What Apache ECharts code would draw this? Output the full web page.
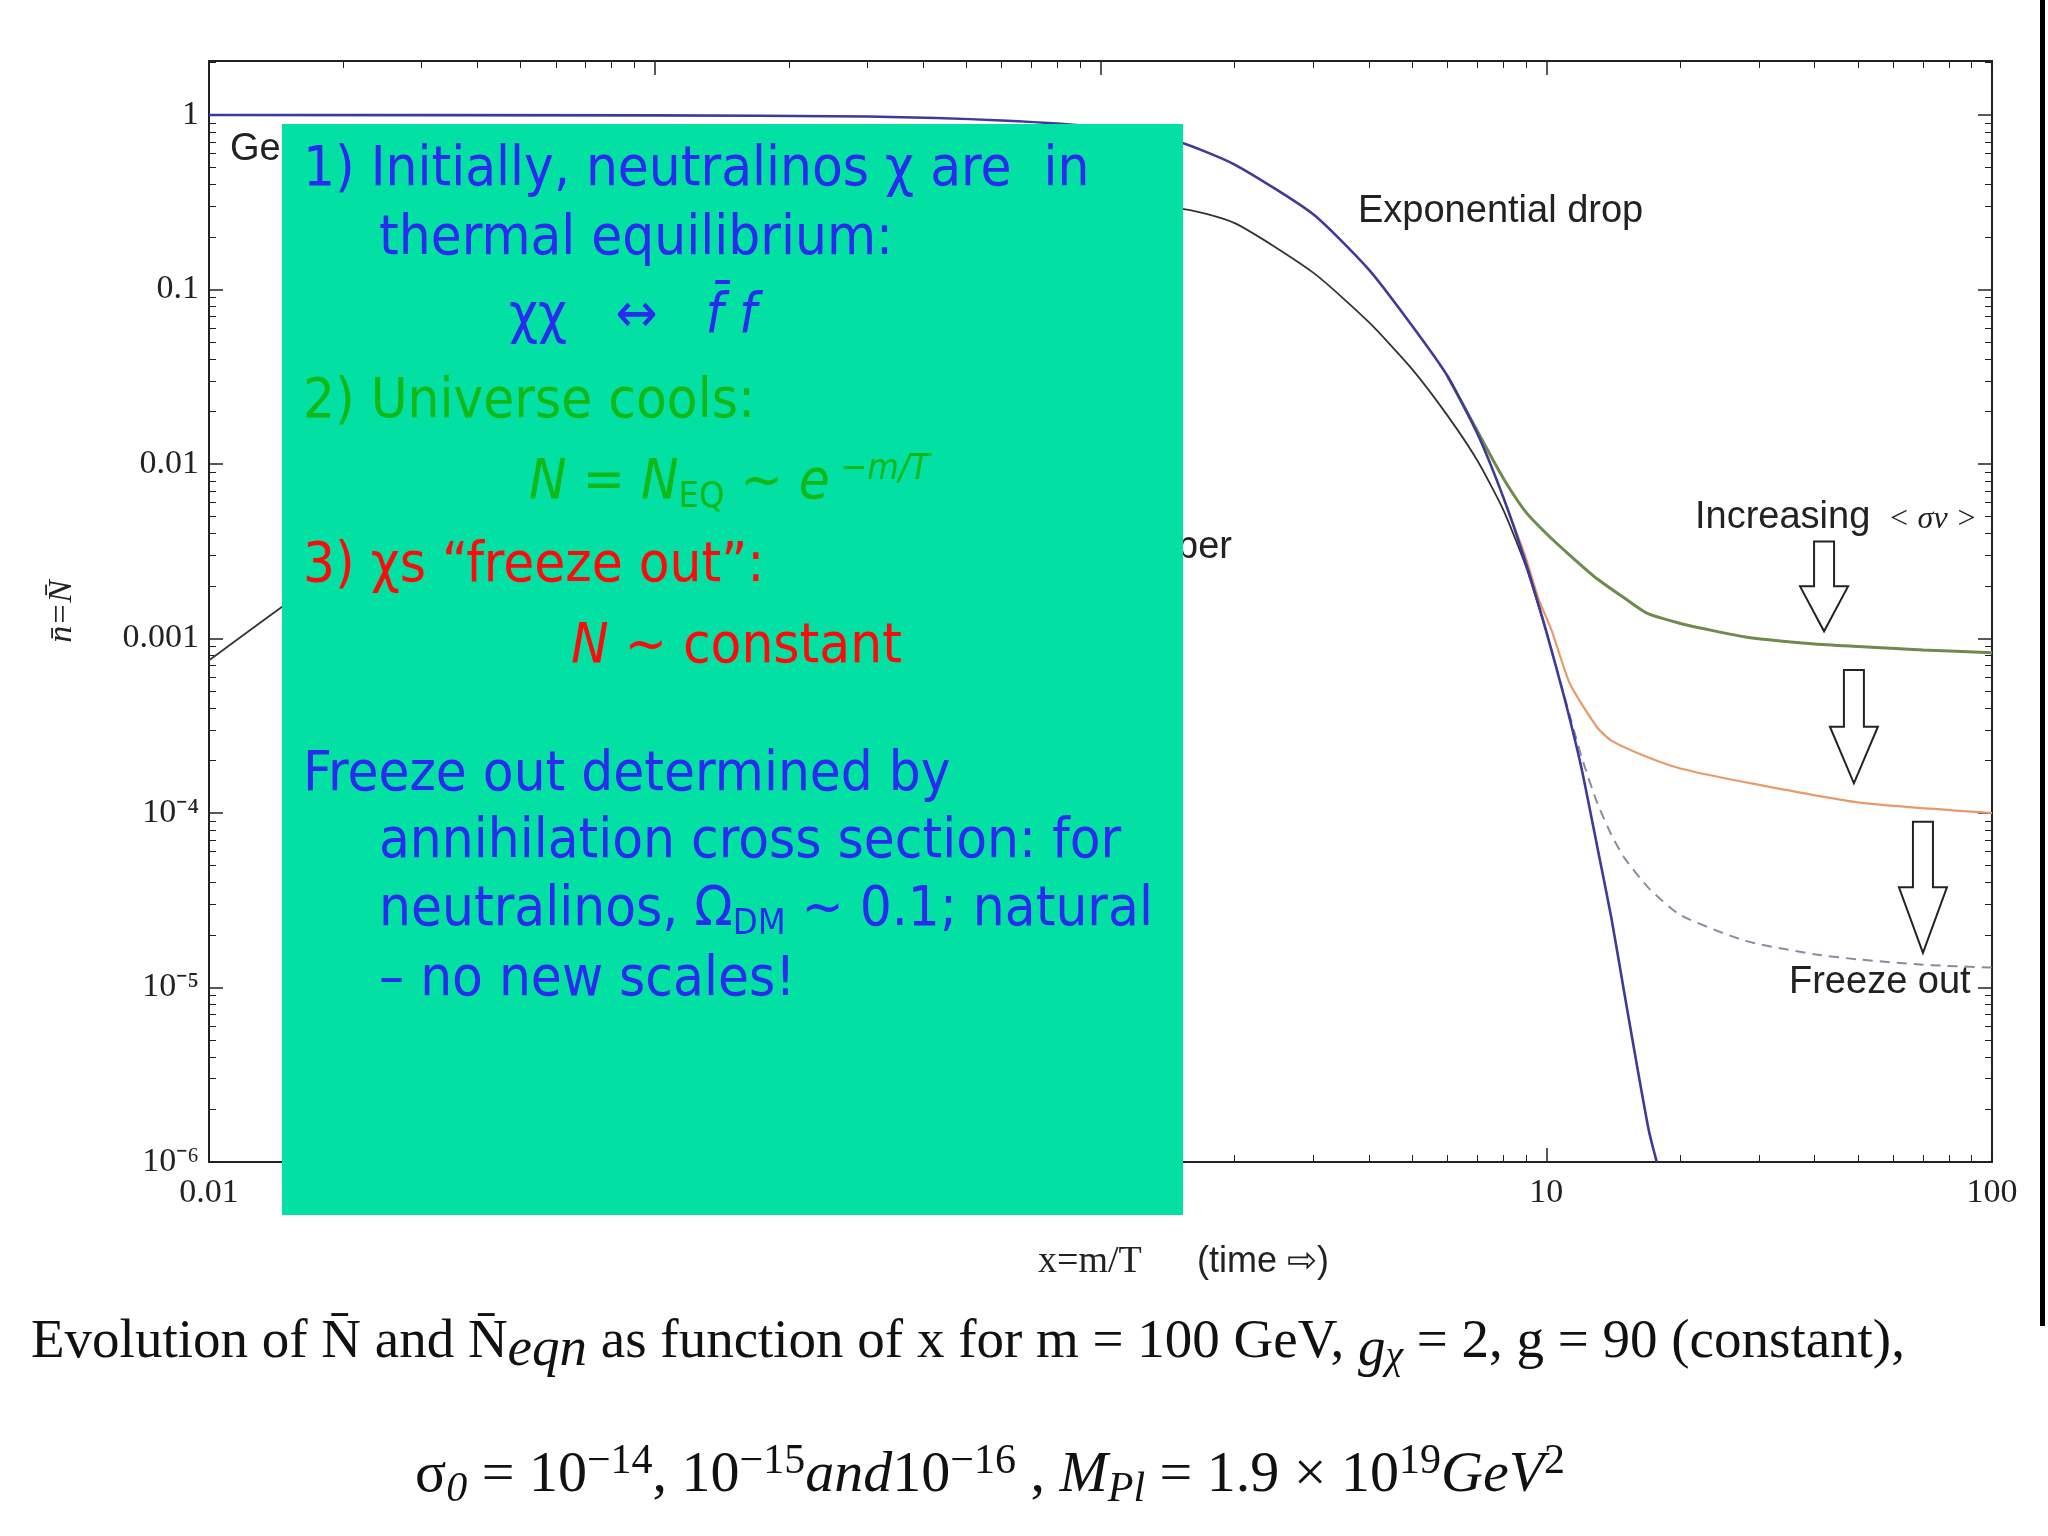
<!DOCTYPE html>
<html>
<head>
<meta charset="utf-8">
<script src="https://cdn.jsdelivr.net/npm/echarts@6/dist/echarts.min.js"></script>
<style>
  html, body { margin: 0; background: #fff; }
  #chart { width: 2048px; height: 1536px; }
</style>
</head>
<body>
<div id="chart"></div>
<script>
// equilibrium curve
const eqX = [0.01, 0.1, 0.3, 0.6, 1, 1.5, 2, 3, 4, 5, 6, 7, 8, 9, 10, 11, 12, 13, 14, 15, 16, 17, 17.7];
const eqY = [1, 0.995, 0.98, 0.93, 0.85, 0.7, 0.52, 0.27, 0.13, 0.062, 0.032, 0.015, 0.0065, 0.0027, 0.0011, 4.5e-4, 1.8e-4, 6.5e-5, 2.5e-5, 9e-6, 3.5e-6, 1.5e-6, 1e-6];
// black curve rising from low x
const blkX = [0.01, 0.015, 0.02, 0.05, 0.1, 0.3, 0.6, 1, 1.5, 2, 3, 4, 5, 6, 7, 8, 9, 10];
const blkY = [7.5e-4, 1.6e-3, 2.6e-3, 0.012, 0.04, 0.15, 0.25, 0.29, 0.29, 0.24, 0.125, 0.065, 0.035, 0.019, 0.0105, 0.0055, 0.0026, 0.0011];
// freeze-out curves, largest to smallest cross section
const grX = [6, 7, 7.6, 8.2, 9, 10, 11.3, 13, 15, 16.8, 20, 28, 40, 50, 70, 100];
const grY = [0.032, 0.0155, 0.0105, 0.0075, 0.0053, 0.004, 0.003, 0.0022, 0.0017, 0.0014, 0.00122, 0.00102, 0.00093, 0.0009, 0.00086, 0.00083];
const orX = [8, 9, 9.6, 10.3, 11.3, 13, 14, 16.8, 20, 28, 50, 100];
const orY = [0.0065, 0.0029, 0.0017, 0.0011, 0.00055, 0.00031, 0.00026, 0.00021, 0.00018, 0.00015, 0.000115, 0.0001];
const daX = [10, 11, 12, 13, 14, 15, 17, 20, 28, 40, 50, 70, 100];
const daY = [0.0011, 4.6e-4, 2.1e-4, 1.15e-4, 7.5e-5, 5.5e-5, 3.7e-5, 2.6e-5, 1.85e-5, 1.55e-5, 1.45e-5, 1.35e-5, 1.3e-5];
// hollow arrows: [x, yTop, yBottom]
const arrows = [[42, 0.0036, 0.0011], [49, 0.00066, 0.000148], [70, 8.9e-5, 1.58e-5]];

const pairs = (xs, ys) => xs.map((x, i) => [x, ys[i]]);
const sups = { '-4': '⁻⁴', '-5': '⁻⁵', '-6': '⁻⁶' };

let myChart = echarts.init(document.getElementById('chart'));
const serif = 'Liberation Serif';
const axisCommon = {
  type: 'log', logBase: 10,
  axisLine: { lineStyle: { color: '#222', width: 2 } },
  axisTick: { inside: true, length: 14, lineStyle: { color: '#222', width: 1.5 } },
  minorTick: { show: true, splitNumber: 9, length: 7, lineStyle: { color: '#222' } },
  splitLine: { show: false }
};
const lineBase = { type: 'line', showSymbol: false, smooth: 0.2 };
let options = {
  animation: false,
  grid: { left: 209, top: 61, right: 56, bottom: 374 },
  xAxis: [
    Object.assign({}, axisCommon, {
      min: 0.01, max: 100, interval: 1,
      axisLabel: { color: '#222', fontFamily: serif, fontSize: 34, margin: 14,
        formatter: v => String(+v.toPrecision(3)) }
    }),
    Object.assign({}, axisCommon, {
      min: 0.01, max: 100, interval: 1, position: 'top',
      axisLabel: { show: false }
    })
  ],
  yAxis: [
    Object.assign({}, axisCommon, {
      min: 1e-6, max: 2.04, interval: 1,
      name: 'n̄=N̄', nameLocation: 'middle', nameGap: 130, nameRotate: 90,
      nameTextStyle: { fontFamily: serif, fontStyle: 'italic', fontSize: 34, color: '#222' },
      axisLabel: { color: '#222', fontFamily: serif, fontSize: 34, margin: 10,
        formatter: v => {
          const e = Math.round(Math.log10(v));
          if (Math.abs(Math.log10(v) - e) > 1e-6) return '';
          if (e >= -3) return String(+Math.pow(10, e).toFixed(3));
          return '10' + sups[e];
        } }
    }),
    Object.assign({}, axisCommon, {
      min: 1e-6, max: 2.04, interval: 1, position: 'right',
      axisLabel: { show: false }
    })
  ],
  series: [
    Object.assign({}, lineBase, { data: pairs(blkX, blkY), lineStyle: { color: '#333', width: 1.8 } }),
    Object.assign({}, lineBase, { data: pairs(grX, grY), lineStyle: { color: '#6e8a4c', width: 3 } }),
    Object.assign({}, lineBase, { data: pairs(orX, orY), lineStyle: { color: '#e89a6a', width: 2.2 } }),
    Object.assign({}, lineBase, { data: pairs(daX, daY), lineStyle: { color: '#8a8aa0', width: 2, type: [10, 7] } }),
    Object.assign({}, lineBase, { data: pairs(eqX, eqY), lineStyle: { color: '#3d3a9a', width: 2.6 } })
  ]
};
myChart.setOption(options);

// arrow shapes placed through the axis scales
function arrowShape(a) {
  const top = myChart.convertToPixel({ gridIndex: 0 }, [a[0], a[1]]);
  const bot = myChart.convertToPixel({ gridIndex: 0 }, [a[0], a[2]]);
  const h = bot[1] - top[1], cx = top[0], w = 10, hw = 24, hh = h * 0.5;
  return {
    type: 'polygon', z: 50,
    shape: { points: [[cx - w, top[1]], [cx + w, top[1]], [cx + w, bot[1] - hh], [cx + hw, bot[1] - hh],
      [cx, bot[1]], [cx - hw, bot[1] - hh], [cx - w, bot[1] - hh]] },
    style: { fill: '#fff', stroke: '#222', lineWidth: 2 }
  };
}
const sans = 'Liberation Sans';
const boxFont = 'DejaVu Sans Condensed';
const lbl = (x, y, t, extra) => ({ type: 'text', x: x, y: y, z: 40,
  style: Object.assign({ text: t, font: '38px ' + sans, fill: '#222', textVerticalAlign: 'middle' }, extra || {}) });
const boxText = (x, y, t, color) => ({ type: 'text', x: x, y: y, z: 120,
  style: { text: t, fill: color, fontFamily: boxFont, fontSize: 56, verticalAlign: 'middle',
    rich: {
      sub: { fontSize: 36, fill: color, fontFamily: boxFont, padding: [30, 0, 0, 0] },
      sup: { fontSize: 36, fill: color, fontFamily: boxFont, fontStyle: 'italic', padding: [0, 0, 26, 0] },
      it: { fontSize: 56, fill: color, fontFamily: boxFont, fontStyle: 'italic' }
    } } });
const blue = '#2b2bf0', green = '#14b814', red = '#ff0a0a';

myChart.setOption({
  graphic: [
    lbl(230, 150, 'Gen'),
    lbl(1232, 548, 'Number', { textAlign: 'right' }),
    lbl(1358, 212, 'Exponential drop'),
    lbl(1695, 518, 'Increasing', {}),
    { type: 'text', x: 1888, y: 520, z: 40, style: { text: '< σv >', font: 'italic 32px ' + serif, fill: '#222', textVerticalAlign: 'middle' } },
    lbl(1789, 983, 'Freeze out'),
    arrowShape(arrows[0]), arrowShape(arrows[1]), arrowShape(arrows[2]),
    { type: 'text', x: 1038, y: 1262, z: 40, style: { text: 'x=m/T', font: '38px ' + serif, fill: '#222', textVerticalAlign: 'middle' } },
    { type: 'text', x: 1197, y: 1262, z: 40, style: { text: '(time ⇨)', font: '36px ' + sans, fill: '#222', textVerticalAlign: 'middle' } },
    { type: 'rect', z: 100, shape: { x: 282, y: 124, width: 901, height: 1091 }, style: { fill: '#02e0a4' } },
    boxText(303, 170, '1) Initially, neutralinos χ are  in', blue),
    boxText(379, 239, 'thermal equilibrium:', blue),
    boxText(509, 317, 'χχ   ↔   {it|f̄ f}', blue),
    boxText(303, 402, '2) Universe cools:', green),
    boxText(529, 483, '{it|N = N}{sub|EQ}{it| ~ e}{sup| −m/T}', green),
    boxText(303, 566, '3) χs “freeze out”:', red),
    boxText(571, 647, '{it|N} ~ constant', red),
    boxText(303, 775, 'Freeze out determined by', blue),
    boxText(379, 842, 'annihilation cross section: for', blue),
    boxText(379, 910, 'neutralinos, Ω{sub|DM} ~ 0.1; natural', blue),
    boxText(379, 980, '– no new scales!', blue),
    { type: 'text', x: 31, y: 1343, z: 40, style: { text: 'Evolution of N̄ and N̄{i|eqn} as function of x for m = 100 GeV, {i|g}{s|χ} = 2, g = 90 (constant),',
      font: '55px ' + serif, fill: '#111', textVerticalAlign: 'middle',
      rich: { i: { fontFamily: serif, fontSize: 55, fontStyle: 'italic', fill: '#111', padding: [16, 0, 0, 0] },
              s: { fontFamily: serif, fontSize: 40, fontStyle: 'italic', fill: '#111', padding: [28, 0, 0, 0] } } } },
    { type: 'text', x: 990, y: 1476, z: 40, style: { text: 'σ{s|0} = 10{p|−14}, 10{p|−15}{i|and}10{p|−16} , {i|M}{s|Pl} = 1.9 × 10{p|19}{i|GeV}{p|2}',
      font: '58px ' + serif, fill: '#111', textAlign: 'center', textVerticalAlign: 'middle',
      rich: { i: { fontFamily: serif, fontSize: 58, fontStyle: 'italic', fill: '#111' },
              s: { fontFamily: serif, fontSize: 42, fontStyle: 'italic', fill: '#111', padding: [28, 0, 0, 0] },
              p: { fontFamily: serif, fontSize: 42, fill: '#111', padding: [0, 0, 28, 0] } } } },
    { type: 'rect', z: 40, shape: { x: 2040, y: 0, width: 5, height: 1326 }, style: { fill: '#000' } }
  ]
});
window.addEventListener('resize', () => { myChart.resize(); });
</script>
</body>
</html>
